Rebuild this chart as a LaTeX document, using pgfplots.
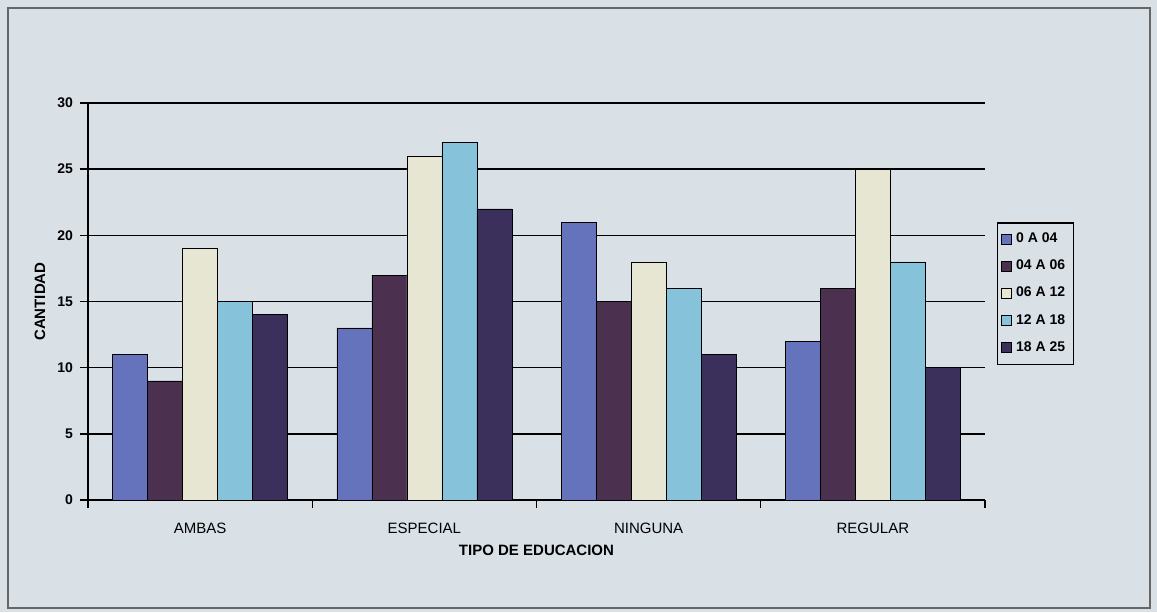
\documentclass[border=0pt]{standalone}
\usepackage{fontspec}
\setmainfont{Liberation Sans}
\usepackage{pgfplots}
\pgfplotsset{compat=1.18}
\definecolor{bgc}{HTML}{D9E0E6}
\definecolor{cA}{HTML}{6573BD}
\definecolor{cB}{HTML}{4B3050}
\definecolor{cC}{HTML}{E6E6D2}
\definecolor{cD}{HTML}{86C3DA}
\definecolor{cE}{HTML}{3B2F5C}
\begin{document}
\begin{tikzpicture}
\fill[bgc] (0,0) rectangle (578.5pt,306pt);
\draw[gray!80!black, line width=0.8pt] (4pt,2pt) rectangle (575pt,302pt);
\begin{axis}[
  at={(44pt,56pt)}, anchor=south west,
  scale only axis, width=448.5pt, height=198.5pt,
  ybar=0pt, bar width=17.5pt,
  xmin=-0.5, xmax=3.5, ymin=0, ymax=30,
  ytick={0,5,...,30},
  xtick={0,1,2,3},
  xticklabels={AMBAS,ESPECIAL,NINGUNA,REGULAR},
  minor xtick={-0.5,0.5,1.5,2.5,3.5},
  axis x line*=bottom, axis y line*=left,
  tick align=outside,
  major x tick style={draw=none},
  minor tick length=4pt, major tick length=4pt,
  every tick/.style={black, line width=0.7pt},
  axis line style={black, line width=0.8pt},
  ymajorgrids, grid style={black, line width=0.7pt},
  /pgf/number format/assume math mode=true,
  yticklabel style={font=\bfseries\fontsize{7}{8}\selectfont},
  xticklabel style={font=\fontsize{7.5}{9}\selectfont, yshift=-4pt},
  xlabel={TIPO DE EDUCACION},
  ylabel={CANTIDAD},
  xlabel style={font=\bfseries\fontsize{7.5}{9}\selectfont, at={(axis description cs:0.5,0)}, anchor=center, yshift=-25pt},
  ylabel style={font=\bfseries\fontsize{7.5}{9}\selectfont, at={(axis description cs:-0.0535,0.5)}, anchor=center},
  legend style={at={(1.013,0.70)}, anchor=north west, draw=black, line width=0.7pt,
    fill=bgc, font=\bfseries\fontsize{7}{8}\selectfont, row sep=3.2pt, inner xsep=2pt, inner ysep=3pt},
  legend cell align=left,
  legend image code/.code={\draw[#1, draw=black, line width=0.4pt] (0pt,-2.5pt) rectangle (5pt,2.5pt);},
  every axis plot/.append style={draw=black, line width=0.3pt},
]
\addplot[fill=cA] coordinates {(0,11) (1,13) (2,21) (3,12)};
\addplot[fill=cB] coordinates {(0,9) (1,17) (2,15) (3,16)};
\addplot[fill=cC] coordinates {(0,19) (1,26) (2,18) (3,25)};
\addplot[fill=cD] coordinates {(0,15) (1,27) (2,16) (3,18)};
\addplot[fill=cE] coordinates {(0,14) (1,22) (2,11) (3,10)};
\legend{0 A 04, 04 A 06, 06 A 12, 12 A 18, 18 A 25}
\end{axis}
\end{tikzpicture}
\end{document}
